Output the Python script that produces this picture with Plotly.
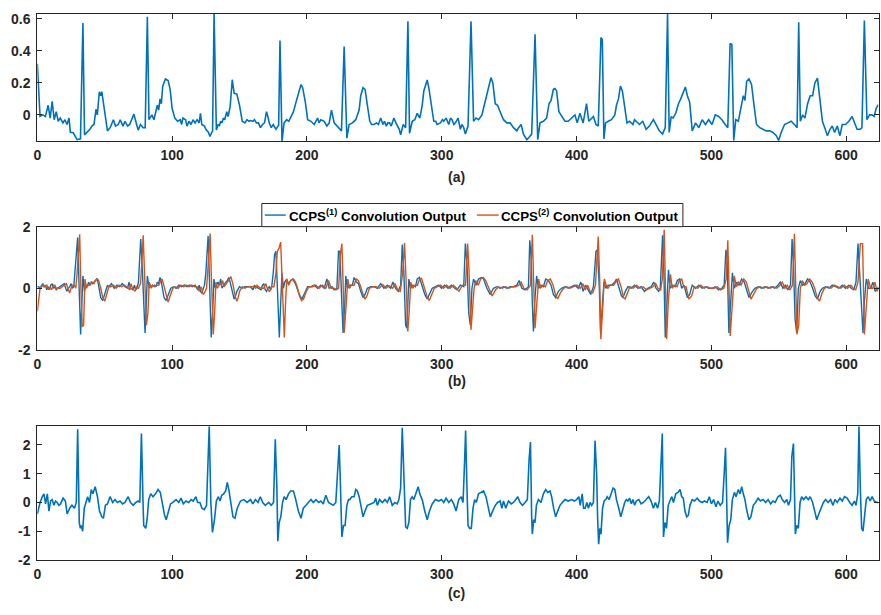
import plotly.graph_objects as go

# ---------------------------------------------------------------
# (a) input ECG segment: (sample index, amplitude)
# ---------------------------------------------------------------
ECG_INPUT = [
    (0, 0.32), (2, -0.01), (4, 0.0), (6, -0.01), (8, 0.06), (9.5, -0.02), (11, 0.085),
    (12.5, -0.03), (14, 0.02), (15.5, -0.04), (17, -0.02), (19, -0.05), (20.5, -0.03),
    (22, -0.06), (23.5, -0.02), (24.5, -0.11), (26.5, -0.11), (28, -0.13), (29.5, -0.155),
    (32, -0.15), (33.8, 0.575), (35, -0.125), (37, -0.11), (39, -0.09), (40.5, -0.07),
    (42, -0.06), (43.5, 0.035), (44.5, 0.0), (46, 0.145), (47, 0.12), (47.8, 0.145),
    (49, 0.08), (50.5, -0.02), (52, -0.1), (54, -0.08), (56.4, -0.03), (58, -0.07),
    (60, -0.06), (61.5, -0.03), (63.5, -0.07), (65, -0.04), (67, -0.07), (68.5, -0.06),
    (71.6, 0.005), (73, -0.04), (74.8, -0.095), (76.5, -0.06), (78.4, -0.08), (80, -0.08),
    (81.6, 0.614), (82.8, -0.03), (84, -0.01), (85, 0.0), (86.5, -0.03), (88, 0.02),
    (89, 0.06), (90, 0.03), (91, 0.1), (92, 0.07), (93, 0.18), (95, 0.225), (97, 0.215),
    (98.5, 0.16), (100, 0.04), (102, -0.02), (104, -0.04), (106, -0.03), (107, -0.06),
    (108, -0.02), (110, -0.03), (111, -0.07), (112.5, -0.04), (114, -0.06), (115.5, -0.03),
    (117, -0.05), (118.5, -0.03), (120, -0.05), (121, 0.01), (122, -0.06), (124, -0.07),
    (125, -0.09), (127, -0.11), (128, -0.135), (130, -0.1), (131.1, 0.632), (132.8, -0.095),
    (134, -0.06), (135, -0.07), (136, -0.04), (137, -0.05), (138, -0.02), (139, -0.03),
    (140.5, 0.02), (141.5, -0.01), (143, 0.05), (144.6, 0.22), (146, 0.135), (148, 0.13),
    (150, 0.06), (151, 0.0), (152, -0.04), (154, -0.05), (155.5, -0.03), (157, -0.04),
    (158, -0.035), (160, -0.04), (161, -0.03), (162.5, -0.05), (164, -0.05), (165.5, -0.08),
    (167, -0.06), (168.5, -0.05), (170, 0.02), (171, -0.01), (172, -0.05), (173.5, -0.08),
    (175, -0.06), (177, -0.09), (179, -0.065), (180, 0.465), (181.5, -0.166), (183, -0.05),
    (185, -0.03), (186.5, -0.04), (188, -0.01), (190, 0.02), (191.9, 0.08), (194.3, 0.16),
    (195.6, 0.19), (196.8, 0.17), (198.8, 0.08), (200.5, -0.03), (203, -0.04), (205.4, -0.06),
    (207.9, -0.02), (209, -0.05), (210.3, -0.03), (212.8, -0.04), (214.8, -0.07),
    (216.5, -0.05), (218.2, 0.03), (220.2, -0.05), (223.2, -0.08), (225.6, -0.1),
    (227.6, 0.427), (229.6, -0.145), (231.3, -0.06), (233.7, -0.05), (236.2, -0.03),
    (237.5, 0.0), (238.7, 0.03), (239.9, 0.12), (241.6, 0.17), (243.1, 0.16), (244.8, 0.05),
    (246.6, -0.04), (248, -0.06), (249.8, -0.06), (251.5, -0.05), (253, -0.06),
    (254.7, -0.02), (256.4, -0.06), (257.5, -0.04), (258.9, -0.07), (260, -0.05),
    (261.3, -0.05), (262.5, -0.07), (264.5, -0.02), (266, -0.05), (267, -0.07),
    (268.5, -0.09), (269.5, -0.125), (271.4, -0.06), (273.2, -0.08), (274.9, 0.586),
    (276.1, -0.115), (278.1, -0.04), (280, -0.03), (281.8, 0.01), (283.7, -0.02),
    (285.5, 0.06), (286.7, 0.15), (287.9, 0.18), (289.2, 0.218), (290.4, 0.17),
    (292.4, 0.05), (294.1, -0.04), (295.5, -0.04), (296.6, -0.06), (299, -0.05),
    (300.5, -0.03), (301.5, -0.04), (303.2, -0.02), (305.2, -0.06), (306.5, -0.02),
    (307.6, -0.03), (309, -0.06), (310.1, -0.05), (312.1, -0.02), (313.8, -0.09),
    (315, -0.06), (316.3, -0.08), (317.5, -0.12), (319.5, -0.07), (321.7, 0.586),
    (323.6, -0.04), (325.4, -0.02), (327.3, -0.03), (329.8, 0.0), (331.8, 0.07),
    (333.5, 0.12), (334.7, 0.17), (336.5, 0.233), (337.9, 0.2), (339.7, 0.07), (341.4, 0.06),
    (343.3, 0.02), (345.8, -0.03), (348.3, -0.05), (350.7, -0.05), (353.2, -0.08),
    (355.7, -0.1), (357, -0.08), (358.9, -0.06), (360.6, -0.12), (363.1, -0.155),
    (364.8, -0.14), (366.7, -0.12), (369.2, 0.504), (371.2, -0.155), (372.9, -0.05),
    (375.4, -0.04), (377.8, -0.02), (379.6, 0.07), (381.1, 0.09), (382.8, 0.16),
    (384, 0.165), (385.2, 0.15), (386.9, 0.02), (388.9, -0.01), (391.4, -0.04),
    (393.8, -0.04), (396.3, -0.02), (398.8, 0.0), (400.5, -0.05), (402.5, 0.01),
    (404.9, -0.05), (407.4, 0.07), (409.1, -0.04), (411.1, -0.02), (412.5, -0.01),
    (414.4, -0.06), (416.1, -0.07), (418.1, 0.484), (419.1, 0.47), (420.3, -0.15),
    (421.5, -0.05), (423.5, -0.04), (425.9, -0.03), (428.4, 0.0), (429.6, 0.06),
    (431.1, 0.1), (432.5, 0.18), (434, 0.15), (435.7, 0.06), (437.4, -0.05), (439.4, -0.04),
    (441.8, -0.06), (443, -0.03), (444.3, -0.04), (446.7, -0.06), (449.1, -0.04),
    (451.6, -0.09), (454, -0.07), (455.5, -0.05), (457, -0.03), (458.9, -0.06),
    (461.4, -0.1), (463.8, -0.12), (465.8, -0.08), (467.5, 0.632), (468.7, -0.11),
    (470.2, -0.01), (471.6, -0.02), (473.6, 0.01), (475.6, 0.07), (477.3, 0.1), (479, 0.14),
    (480.7, 0.175), (482.2, 0.12), (483.9, 0.08), (485.8, -0.1), (488.3, -0.05),
    (490.7, -0.08), (493.2, -0.03), (495.6, -0.06), (498, -0.03), (500.5, -0.06),
    (502.9, 0.0), (505.4, -0.01), (507.8, -0.03), (510.3, -0.06), (512.2, -0.08),
    (513.9, 0.447), (515.2, 0.44), (516.6, -0.16), (518.1, -0.03), (520, -0.04),
    (522, 0.05), (523.7, 0.12), (524.9, 0.09), (526.2, 0.21), (527.9, 0.225), (529.8, 0.19),
    (531.8, 0.05), (533.5, -0.06), (535.9, -0.08), (538.4, -0.09), (540.8, -0.1),
    (543.3, -0.1), (545.7, -0.11), (548.2, -0.13), (549.9, -0.16), (551.8, -0.11),
    (554.3, -0.06), (556.7, -0.05), (559.2, -0.04), (561.6, -0.06), (563.6, -0.08),
    (564.8, 0.58), (566, -0.04), (567.7, 0.0), (569.4, -0.02), (571.4, 0.07), (573.3, 0.12),
    (575.1, 0.12), (576.8, 0.2), (578.7, 0.23), (580.7, 0.06), (582.4, -0.04),
    (584.1, -0.08), (586.1, -0.13), (588, -0.09), (589.7, -0.07), (591.4, -0.11),
    (593.4, -0.07), (595.4, -0.13), (597.1, -0.06), (599.5, -0.06), (602, -0.04),
    (604.4, -0.01), (606.4, -0.05), (608.1, -0.09), (610.5, -0.09), (611.7, -0.08),
    (613.5, 0.59), (615.4, -0.03), (617.4, 0.0), (619.1, 0.0), (620.8, -0.01),
    (622.2, 0.04), (623.5, 0.06), (624, 0.06),
]

# ---------------------------------------------------------------
# (b) convolution outputs of the two CCPS filters
# ---------------------------------------------------------------
CCPS1_OUT = [
    (0, 0.05), (1, 0.05), (2, 0.0), (3, 0.1), (4, 0.15), (5, 0.05), (6, 0.1), (7, -0.05),
    (8, 0.05), (9, -0.05), (10, 0.1), (11, 0.15), (12, 0.0), (13, 0.05), (14, -0.05),
    (15, 0.0), (17, 0.05), (19, 0.1), (20, 0.15), (21, 0.0), (22, -0.1), (23, 0.0),
    (24, 0.05), (25, 0.15), (26, 0.0), (27, 0.05), (28, 0.6), (29, 1.2), (29.9, 1.65),
    (31, 0.0), (32.1, -1.5), (33, -0.5), (33.8, 0.4), (35, -0.1), (36, 0.1), (37, 0.05),
    (38, 0.2), (39, 0.1), (40, 0.2), (41, 0.15), (42, 0.2), (43, 0.25), (44, 0.3),
    (45, 0.2), (46, -0.1), (47, -0.3), (48.5, -0.4), (50, -0.2), (51, 0.0), (52, 0.1),
    (53, 0.05), (55, 0.15), (57, 0.0), (59, 0.1), (61, 0.05), (63, 0.15), (65, 0.05),
    (67, 0.0), (68, 0.2), (69, 0.0), (71, -0.05), (72, 0.1), (73, -0.05), (74, 0.0),
    (75, 0.2), (76.7, 1.6), (78, 0.5), (79.9, -1.45), (80.5, -0.8), (81.6, 0.4), (83, 0.0),
    (84, 0.1), (85, 0.05), (87, 0.1), (88, 0.05), (89, 0.2), (90, 0.15), (91, 0.35),
    (92, 0.2), (93, 0.0), (94, -0.3), (95.5, -0.4), (97, -0.2), (99, 0.0), (101, 0.05),
    (103, 0.0), (105, 0.1), (107, 0.05), (109, 0.1), (111, 0.05), (113, 0.1), (115, 0.05),
    (117, 0.1), (119, -0.05), (120, 0.1), (121, -0.1), (122, -0.15), (123, 0.0), (124, 0.1),
    (125, 0.5), (126, 1.2), (126.7, 1.7), (127.5, 0.5), (129, -1.6), (130, -0.8), (131, 0.3),
    (132, 0.0), (134, 0.2), (135, 0.1), (136, 0.3), (137, 0.0), (138, 0.1), (139, 0.15),
    (141, 0.25), (142, 0.35), (143, 0.2), (144, 0.0), (145, -0.2), (146, -0.35),
    (147, -0.25), (148, -0.1), (150, 0.05), (152, 0.0), (154, 0.05), (156, 0.05),
    (158, 0.05), (160, -0.05), (161, 0.1), (162, 0.05), (164, 0.0), (166, -0.05), (167, 0.1),
    (168, 0.15), (169, -0.05), (170, -0.1), (171, 0.0), (172, 0.05), (173, -0.05),
    (174, 0.1), (175, 0.5), (176, 1.1), (177, 1.2), (178, 0.0), (179.5, -1.6),
    (180.5, -0.5), (181.5, 0.5), (182.5, 0.0), (183.5, 0.2), (185, 0.3), (186, 0.15),
    (188, 0.25), (189.5, 0.3), (191.9, 0.1), (194.3, -0.2), (196.3, -0.35), (198, -0.2),
    (200.5, 0.05), (203, 0.05), (205.4, 0.1), (207.9, 0.0), (210.3, 0.1), (212.8, 0.0),
    (214.8, 0.3), (216.5, 0.0), (218.5, 0.05), (220.2, -0.05), (222.2, 0.0), (223.4, 1.2),
    (224.4, 1.2), (225.9, -0.5), (226.8, -1.45), (228.1, -0.5), (228.8, 0.4), (230, 0.0),
    (231.8, 0.1), (233.7, 0.1), (235, 0.35), (236.7, 0.2), (238.2, 0.15), (239.9, -0.1),
    (241.6, -0.3), (243.1, -0.2), (244.8, 0.0), (247.3, 0.05), (249.8, 0.05), (252.2, 0.0),
    (254.7, 0.15), (257.1, 0.0), (259.6, 0.1), (262.1, 0.0), (263.8, 0.2), (265.8, 0.0),
    (267.7, -0.1), (269.5, 0.1), (270.7, 1.42), (271.9, 0.5), (273.2, -1.2), (274.1, -1.3),
    (275.6, 0.3), (276.8, 0.0), (278.6, 0.1), (280.5, 0.05), (281.8, 0.3), (283.5, 0.35),
    (285.5, 0.1), (287.4, -0.2), (289.2, -0.35), (290.9, -0.2), (292.9, 0.0), (295.3, 0.05),
    (297.8, 0.1), (299.8, 0.0), (302.2, 0.1), (304.7, 0.0), (307.1, 0.1), (309.6, 0.0),
    (311.3, -0.05), (313.8, 0.1), (316.3, 0.05), (317.5, 1.45), (318.7, 0.8), (320, -0.8),
    (321.2, -1.2), (322.4, 0.0), (323.6, 0.3), (325.4, 0.1), (327.3, 0.3), (329.3, 0.35),
    (331, 0.3), (333.5, 0.0), (335.9, -0.2), (338.4, 0.0), (340.9, 0.05), (343.3, 0.0),
    (345.8, 0.05), (348.3, 0.0), (350.7, 0.05), (353.2, 0.05), (355.7, 0.1), (357.4, 0.25),
    (359.4, 0.0), (361.8, -0.05), (364.3, 0.05), (365.3, 1.56), (366.3, 1.0), (367.2, -0.5),
    (368, -1.4), (369.2, -0.3), (370.4, 0.4), (371.7, 0.0), (373.6, 0.1), (375.4, 0.05),
    (377.1, 0.3), (379.1, 0.25), (381.1, 0.1), (382.8, -0.2), (384.5, -0.3), (386.5, -0.1),
    (388.9, 0.0), (391.4, 0.05), (393.8, 0.0), (396.3, 0.05), (398.8, 0.1), (401.2, 0.0),
    (403.2, 0.2), (404.9, -0.1), (406.7, 0.1), (408.6, -0.05), (410.5, -0.2), (412.5, 0.05),
    (414.4, 1.2), (415.5, 1.25), (416.9, 0.0), (417.8, -1.45), (419.1, -0.5), (420.3, 0.2),
    (421.8, 0.0), (423.5, 0.1), (425.9, 0.1), (428.4, 0.2), (429.6, 0.3), (431.5, 0.0),
    (433.3, -0.25), (434.5, -0.3), (436.2, -0.1), (438.1, 0.05), (440.6, 0.0), (443, 0.1),
    (445.5, 0.0), (447.9, 0.05), (450.4, -0.1), (452.8, 0.0), (455.3, 0.05), (457.2, 0.2),
    (458.9, 0.0), (460.9, -0.1), (462.1, 0.0), (463.8, 1.72), (464.8, 0.5), (465.8, -1.6),
    (467, -0.5), (468.2, 0.6), (469.4, 0.0), (471.1, 0.1), (473.1, 0.05), (474.8, 0.25),
    (476.5, 0.3), (478, 0.0), (479.7, 0.1), (482.2, -0.3), (483.9, -0.2), (485.8, 0.1),
    (488.3, 0.0), (490.7, 0.1), (493.2, 0.0), (495.6, 0.05), (498, 0.0), (500.5, 0.0),
    (502.9, 0.05), (505.4, -0.05), (507.8, 0.0), (509.5, 0.1), (510.8, 1.25), (511.7, 1.0),
    (513, -1.45), (514.2, -0.5), (515.6, 0.5), (517.1, 0.0), (518.8, 0.2), (520.5, 0.1),
    (522.5, 0.3), (524.4, 0.2), (526.2, -0.1), (527.9, -0.3), (529.8, -0.15), (532.3, 0.0),
    (534.7, 0.05), (537.2, 0.0), (539.6, 0.05), (542.1, 0.0), (544.5, 0.05), (547, 0.0),
    (549.4, 0.1), (551.1, 0.2), (553.1, 0.0), (554.8, 0.1), (556.7, -0.05), (558.7, 0.1),
    (559.9, 1.6), (560.9, 0.8), (562.1, -1.0), (563.3, -1.45), (564.5, 0.0), (566, 0.25),
    (567.7, 0.1), (569.4, 0.15), (571.4, 0.3), (573.3, 0.2), (575.1, 0.0), (577, -0.25),
    (578.7, -0.35), (580.7, -0.1), (582.4, 0.0), (584.8, 0.05), (587.3, 0.0), (589.7, 0.1),
    (592.2, 0.05), (594.6, 0.0), (597.1, 0.1), (599.5, 0.0), (602, 0.1), (603.7, 0.0),
    (605.6, -0.05), (607.3, 0.2), (608.8, 1.45), (610, 0.5), (611.2, -0.8), (612.5, -1.45),
    (613.4, -0.5), (614.9, 0.3), (616.6, 0.0), (618.3, 0.0), (619.8, 0.2), (621.5, -0.1),
    (623.5, 0.0), (624, 0.05),
]

CCPS2_OUT = [
    (0, -0.75), (1, -0.3), (2, 0.0), (3, 0.05), (4.5, 0.1), (5.5, 0.05), (7, 0.1),
    (8.5, -0.05), (9.5, 0.05), (10.5, -0.05), (12, 0.1), (13, 0.1), (14, 0.0), (15.5, 0.0),
    (17, 0.0), (18.5, 0.05), (20.5, 0.1), (21.5, 0.15), (23, -0.05), (24, -0.15), (25, 0.0),
    (26, 0.1), (27.5, 0.1), (28.5, 0.0), (29.5, 0.5), (30.5, 1.3), (31.4, 1.75), (32.3, 0.0),
    (33.3, -1.25), (34.3, -1.2), (35.3, 0.3), (36.5, 0.0), (37.5, 0.1), (39, 0.1),
    (40.5, 0.2), (42, 0.15), (43, 0.25), (44.5, 0.3), (45.5, 0.25), (47, 0.0), (48.5, -0.3),
    (50, -0.42), (51.5, -0.2), (53, 0.05), (54.5, 0.05), (56.5, 0.1), (58.5, 0.0),
    (60.5, 0.1), (62.5, 0.05), (64.5, 0.1), (66.5, 0.05), (68.5, -0.05), (69.5, 0.15),
    (70.5, 0.0), (72.5, -0.1), (73.5, 0.05), (75, 0.0), (76.5, 0.15), (77.5, 0.8),
    (78.5, 1.72), (79.5, 0.5), (80.9, -1.2), (82, -0.8), (83, 0.2), (84.5, 0.0), (85.5, 0.1),
    (87, 0.05), (88.5, 0.1), (90, 0.1), (91.5, 0.2), (92.5, 0.3), (93.5, 0.15), (95, -0.1),
    (96, -0.35), (97, -0.45), (98.5, -0.25), (100.5, 0.0), (102.5, 0.05), (104.5, 0.0),
    (106.5, 0.1), (108.5, 0.05), (110.5, 0.1), (112.5, 0.05), (114.5, 0.1), (116.5, 0.05),
    (118.5, 0.05), (120, -0.1), (121.5, 0.05), (123, -0.2), (124, -0.15), (125.5, 0.0),
    (126.5, 0.6), (127.5, 1.5), (128.2, 1.78), (129, 0.5), (130.5, -1.5), (131.5, -0.8),
    (132.5, 0.2), (133.5, 0.0), (135.5, 0.15), (136.5, 0.1), (137.5, 0.25), (138.5, 0.05),
    (139.5, 0.1), (141, 0.2), (142.5, 0.3), (143.5, 0.38), (145, 0.15), (146, -0.1),
    (147, -0.3), (148, -0.42), (149, -0.3), (150, -0.1), (152, 0.05), (154, 0.0),
    (156, 0.05), (158, 0.05), (160, 0.05), (162, 0.0), (163, 0.1), (164, 0.05), (166, 0.0),
    (168, 0.0), (169.5, 0.15), (170.5, 0.0), (172, -0.1), (173, -0.05), (174, 0.05),
    (175.5, 0.05), (177, 0.5), (178, 1.2), (179.3, 1.3), (180.5, 1.5), (181.5, 0.2),
    (183.2, -1.6), (184, -0.6), (185, 0.3), (186.5, 0.1), (188, 0.25), (190, 0.3),
    (191.5, 0.2), (193, 0.0), (194.5, -0.25), (196, -0.4), (197.5, -0.35), (199.5, -0.1),
    (201.5, 0.05), (204, 0.05), (206.5, 0.1), (209, 0.0), (211.5, 0.1), (214, 0.0),
    (216, 0.25), (218, 0.0), (220, 0.0), (221.5, -0.05), (223.5, 0.0), (224.8, 1.1),
    (225.9, 1.45), (226.8, 0.2), (227.6, -1.45), (229, -0.6), (230.3, 0.3), (231.5, 0.0),
    (233, 0.1), (235, 0.1), (236.5, 0.3), (238, 0.25), (239.5, 0.1), (241.3, -0.15),
    (243, -0.35), (244.5, -0.25), (246.3, 0.0), (248.8, 0.05), (251.3, 0.05), (253.7, 0.0),
    (256.2, 0.12), (258.6, 0.0), (261.1, 0.08), (263.6, 0.0), (265.3, 0.15), (267.3, -0.05),
    (269.2, -0.1), (271, 0.5), (272.4, 1.47), (273.5, 0.3), (274.8, -1.4), (275.8, -0.8),
    (277, 0.2), (278.5, 0.0), (280, 0.1), (282, 0.1), (283.5, 0.3), (285, 0.32), (287, 0.05),
    (289, -0.25), (290.7, -0.4), (292.4, -0.2), (294.5, 0.0), (296.8, 0.05), (299.3, 0.1),
    (301.3, 0.0), (303.7, 0.1), (306.2, 0.0), (308.6, 0.1), (311, 0.0), (312.8, -0.1),
    (315.3, 0.1), (317.6, 0.1), (319.2, 1.45), (320.2, 0.6), (321.7, -1.35), (322.8, -0.8),
    (324, 0.0), (325.2, 0.25), (327, 0.1), (328.9, 0.3), (330.8, 0.35), (332.6, 0.25),
    (335, 0.0), (337.4, -0.25), (339.9, -0.05), (342.4, 0.05), (344.8, 0.0), (347.3, 0.05),
    (349.8, 0.0), (352.2, 0.05), (354.7, 0.05), (357.2, 0.1), (358.9, 0.2), (360.9, 0.0),
    (363.3, -0.05), (365.8, 0.1), (366.5, 1.0), (367.2, 1.74), (368.1, 0.3), (369.2, -1.3),
    (370.5, -0.5), (371.9, 0.3), (373.2, 0.0), (375.1, 0.1), (376.9, 0.05), (378.6, 0.25),
    (380.6, 0.3), (382.6, 0.1), (384.3, -0.2), (386, -0.35), (388, -0.15), (390.4, 0.0),
    (392.9, 0.05), (395.3, 0.0), (397.8, 0.05), (400.3, 0.1), (402.7, 0.0), (404.7, 0.15),
    (406.4, -0.05), (408.2, 0.1), (410.1, -0.1), (412, -0.15), (414, 0.1), (415.2, 1.0),
    (416.1, 1.68), (417.2, 0.2), (418, -1.65), (419.3, -0.7), (420.6, 0.3), (422, 0.1),
    (423.3, 0.0), (425, 0.1), (427.4, 0.1), (429.9, 0.25), (431.1, 0.3), (433, 0.05),
    (434.8, -0.3), (436, -0.35), (437.7, -0.15), (439.6, 0.05), (442.1, 0.0), (444.5, 0.1),
    (447, 0.0), (449.4, 0.05), (451.9, -0.05), (454.3, 0.0), (456.8, 0.05), (458.7, 0.15),
    (460.4, 0.0), (462.4, -0.05), (463.6, 0.3), (465, 1.9), (465.8, 0.3), (466.8, -1.65),
    (468, -0.5), (469.7, 0.45), (470.9, 0.0), (472.6, 0.1), (474.6, 0.05), (476.3, 0.25),
    (478, 0.3), (479.5, 0.05), (481.2, 0.05), (483.3, -0.35), (485.4, -0.25), (487.3, 0.05),
    (489.8, 0.0), (492.2, 0.1), (494.7, 0.0), (497.1, 0.05), (499.5, 0.0), (502, 0.0),
    (504.4, 0.05), (506.9, -0.05), (509.3, 0.0), (511, 0.3), (512.2, 1.56), (513.1, 0.3),
    (514, -1.55), (515.4, -0.6), (517, 0.4), (518.6, 0.05), (520.3, 0.2), (522, 0.1),
    (524, 0.3), (525.9, 0.2), (527.7, -0.1), (529.4, -0.35), (531.3, -0.2), (533.8, 0.0),
    (536.2, 0.05), (538.7, 0.0), (541.1, 0.05), (543.6, 0.0), (546, 0.05), (548.5, 0.0),
    (550.9, 0.1), (552.6, 0.2), (554.6, 0.0), (556.3, 0.1), (558.2, -0.05), (560.2, 0.1),
    (561.6, 1.77), (562.5, 0.5), (563.5, -1.5), (564.8, -1.2), (566, 0.0), (567.5, 0.25),
    (569.2, 0.1), (570.9, 0.15), (572.9, 0.3), (574.8, 0.2), (576.6, 0.0), (578.5, -0.3),
    (580.2, -0.42), (582.2, -0.15), (583.9, 0.0), (586.3, 0.05), (588.8, 0.0), (591.2, 0.1),
    (593.7, 0.05), (596.1, 0.0), (598.6, 0.1), (601, 0.0), (603.5, 0.1), (605.2, 0.0),
    (607.1, -0.05), (608.8, 0.2), (610.5, 1.45), (612.2, 1.45), (613.5, -1.5),
    (614.4, -1.0), (616.4, 0.3), (618.1, 0.0), (619.8, 0.0), (621.3, 0.2), (623, -0.1),
    (624, 0.0),
]

# ---------------------------------------------------------------
# (c) combined output
# ---------------------------------------------------------------
COMBINED_OUT = [
    (0, -0.4), (2, 0.0), (3.7, 0.2), (4.9, 0.3), (6.1, -0.05), (7.4, 0.3), (8.6, -0.3),
    (9.8, 0.05), (11, 0.1), (12.3, -0.1), (13.5, 0.05), (14.7, 0.0), (16, -0.1),
    (17.2, -0.05), (19.1, 0.15), (20.8, 0.05), (22.1, -0.4), (24, -0.2), (25.7, -0.1),
    (27.5, -0.2), (28.9, 0.0), (29.9, 2.55), (31.1, -0.7), (31.9, -0.9), (32.6, -0.8),
    (33.6, -1.0), (34.8, -0.2), (36.3, 0.1), (37.3, 0.2), (38.7, 0.0), (40, 0.45),
    (41.2, 0.3), (42.9, 0.55), (44.6, 0.2), (46.1, -0.3), (47.8, -0.5), (49, -0.55),
    (50.5, -0.1), (52, -0.05), (53.9, 0.2), (55.9, 0.0), (57.6, 0.1), (59.3, 0.0),
    (61.3, 0.05), (63.2, -0.05), (65, 0.0), (67.4, 0.2), (69.1, 0.0), (71.1, -0.1), (73, 0.0),
    (74.8, 0.05), (76, 0.0), (77.2, 2.4), (78.4, 0.0), (78.9, -0.8), (80.4, -0.9),
    (81.4, -0.6), (82.6, 0.1), (84.1, 0.3), (85.8, 0.2), (87.7, 0.3), (89.5, 0.45),
    (91.2, 0.35), (92.6, 0.0), (94.4, -0.45), (95.6, -0.6), (96.8, -0.4), (98.8, -0.05),
    (100.5, 0.0), (102.9, 0.1), (104.9, 0.0), (106.6, 0.15), (108.3, -0.05), (110.3, 0.05),
    (112.3, 0.0), (114, 0.1), (115.7, 0.05), (117.6, 0.2), (118.9, 0.0), (120.6, 0.0),
    (122.1, -0.2), (123.8, -0.25), (125.5, -0.1), (126.7, 1.2), (127.5, 2.65), (128.7, 0.0),
    (129.9, -1.04), (131.4, -0.6), (132.8, 0.05), (134.3, 0.2), (135.5, 0.05), (136.8, 0.25),
    (138.2, 0.3), (139.7, 0.4), (140.9, 0.7), (142.2, 0.4), (143.6, 0.0), (145.1, -0.5),
    (146.6, -0.55), (148.3, -0.2), (150.7, 0.05), (153.2, 0.1), (155.6, 0.0), (158.1, 0.1),
    (159.8, -0.05), (161.8, 0.1), (163.7, 0.0), (165.4, 0.2), (167.2, 0.0), (169.1, -0.1),
    (171.6, 0.0), (173.5, -0.1), (175.2, 0.0), (176.5, 2.2), (177.7, 0.5), (178.4, -1.35),
    (179.4, -0.7), (180.6, -0.5), (181.9, 0.0), (183.1, 0.2), (184.6, 0.1), (186.3, 0.3),
    (188, 0.4), (190, 0.4), (191.7, 0.1), (193.6, -0.3), (195.6, -0.55), (197.3, -0.2),
    (199.3, -0.1), (201.2, 0.0), (203, 0.1), (204.7, 0.0), (206.7, 0.1), (208.6, 0.0),
    (210.3, 0.05), (212.1, -0.05), (214, 0.25), (216, 0.0), (217.7, -0.05), (219.5, -0.1),
    (221.4, 0.0), (222.7, 1.2), (223.9, 2.0), (224.6, 1.0), (225.9, -1.2), (227.1, -0.8),
    (228.3, -0.8), (229.6, -0.1), (230.8, 0.1), (231.8, 0.1), (233.3, 0.2), (235, 0.2),
    (236.2, 0.45), (237.4, 0.4), (238.7, 0.2), (240.4, -0.2), (241.6, -0.5), (243.1, -0.3),
    (244.8, -0.1), (247.3, -0.05), (249.8, 0.0), (251, 0.15), (252.2, -0.1), (253.9, 0.1),
    (255.9, 0.0), (257.9, 0.1), (259.6, 0.0), (261.3, 0.2), (263.3, -0.1), (265.3, 0.0),
    (267, -0.05), (268.2, 0.1), (269.5, 0.5), (270.7, 2.6), (271.9, 0.5), (273.2, -0.85),
    (274.4, -0.9), (275.6, -0.7), (276.8, 0.1), (278.1, 0.2), (279.3, 0.1), (281, 0.35),
    (282.5, 0.55), (283.7, 0.3), (285.5, 0.1), (287.4, -0.3), (289.2, -0.6), (290.9, -0.3),
    (292.9, -0.05), (295.3, 0.1), (297.8, 0.05), (299.8, 0.1), (301.5, 0.0), (303.2, 0.15),
    (305.2, 0.0), (307.1, 0.1), (308.9, -0.05), (310.6, -0.3), (312.6, 0.1), (314.5, 0.2),
    (315.8, 0.0), (317, 1.5), (317.7, 2.5), (318.7, 0.5), (319.5, -0.8), (320.7, -0.9),
    (321.9, -0.9), (323.2, -0.2), (324.4, 0.1), (325.6, 0.0), (327.3, 0.3), (329.1, 0.35),
    (331, 0.4), (332.8, 0.2), (334.2, -0.1), (336, -0.5), (337.7, -0.3), (339.7, -0.1),
    (341.4, 0.0), (343.3, 0.05), (344.6, -0.2), (345.8, 0.05), (347.5, -0.2), (349.5, 0.05),
    (351.5, -0.05), (353.2, 0.0), (354.9, 0.1), (356.4, 0.2), (358.1, 0.0), (359.9, -0.1),
    (361.8, 0.0), (363.5, 0.1), (364.8, 1.5), (365.8, 2.1), (366.7, -0.5), (367.2, -1.1),
    (368.2, -0.6), (369.2, -0.7), (370.2, -0.1), (371.7, 0.1), (373.6, 0.0), (375.4, 0.3),
    (377.1, 0.45), (378.6, 0.35), (380.3, 0.4), (381.5, 0.2), (383, -0.2), (384.5, -0.5),
    (386, -0.3), (387.7, -0.1), (389.4, 0.0), (391.4, 0.1), (393.8, 0.05), (396.3, 0.1),
    (398.3, 0.05), (400, 0.1), (401.7, 0.2), (402.7, -0.1), (404.2, 0.3), (405.2, -0.2),
    (406.4, -0.2), (407.6, 0.0), (408.8, -0.2), (410, 0.0), (411.2, -0.1), (412.5, 0.0),
    (413.7, 2.15), (414.9, 1.0), (415.6, -0.5), (416.4, -1.45), (417.3, -0.9), (418.1, -1.1),
    (419.3, -0.2), (420.5, 0.05), (421.7, 0.1), (422.7, 0.2), (424.2, 0.1), (425.6, 0.3),
    (427.1, 0.5), (428.4, 0.45), (429.6, 0.1), (431.3, -0.2), (432.8, -0.5), (434, -0.3),
    (435.7, 0.0), (436.9, 0.1), (438.1, 0.05), (439.4, 0.15), (440.6, -0.05), (441.8, 0.1),
    (443.1, -0.1), (444.3, 0.05), (446.2, 0.1), (447.9, -0.05), (449.6, 0.0), (451.6, 0.1),
    (453.5, 0.2), (455.3, 0.05), (457, -0.2), (458.5, 0.0), (460.1, -0.2), (461.4, 0.05),
    (462.6, 1.5), (463.6, 2.4), (464.5, -1.2), (465.5, -0.7), (466.7, -0.9), (468, -0.1),
    (469.2, 0.05), (470.7, 0.2), (471.9, 0.0), (473.6, 0.3), (475.3, 0.35), (476.8, 0.45),
    (478, 0.2), (479.2, 0.15), (480.4, -0.3), (481.7, -0.5), (482.9, -0.45), (484.1, -0.1),
    (485.8, 0.1), (487.5, 0.05), (489.5, 0.15), (491.2, 0.05), (493.2, 0.0), (494.9, 0.05),
    (496.8, 0.0), (498.5, 0.2), (500, -0.05), (501.7, 0.1), (503.4, -0.15), (504.9, 0.05),
    (506.6, -0.1), (508.3, 0.0), (509.5, 1.0), (510.5, 1.9), (511.2, 0.5), (512, -1.4),
    (513.2, -0.8), (514.4, -0.6), (515.6, 0.1), (517.1, 0.35), (518.3, 0.2), (520, 0.45),
    (521.3, 0.3), (522.5, 0.55), (523.7, 0.3), (524.9, 0.1), (526.4, -0.3), (527.9, -0.6),
    (529.3, -0.5), (531.1, -0.1), (532.8, 0.0), (534.7, 0.15), (536.4, 0.05), (538.4, 0.1),
    (540.3, 0.0), (542.1, 0.1), (544, -0.05), (545.7, 0.05), (547.4, 0.0), (549.4, 0.2),
    (551.1, 0.25), (552.6, 0.1), (554.3, 0.0), (556, 0.1), (557.2, -0.1), (558.7, 0.1),
    (559.7, 1.6), (560.9, 2.05), (561.6, 0.5), (562.3, -1.1), (563.3, -0.8), (564.5, -0.9),
    (565.8, 0.0), (567, 0.2), (568.5, 0.1), (570.2, 0.2), (571.9, 0.1), (573.3, 0.2),
    (575.1, 0.0), (576.8, -0.3), (578.2, -0.6), (579.7, -0.4), (581.2, -0.2), (583.1, 0.0),
    (584.8, 0.1), (586.6, 0.0), (588.5, 0.1), (590.2, -0.1), (591.7, 0.1), (593.4, 0.0),
    (595.4, 0.15), (597.1, 0.05), (598.8, 0.2), (600.7, 0.15), (602.7, 0.0), (604.4, -0.1),
    (606.1, 0.05), (607.3, -0.1), (608.6, 0.3), (609.5, 2.65), (610.5, 0.5), (611.5, -0.9),
    (612.5, -1.0), (613.7, -0.3), (614.9, 0.1), (616.4, 0.2), (617.8, 0.05), (619.3, 0.2),
    (620.8, 0.05), (622.7, 0.0), (624, 0.0),
]

X_TICKS = [0, 100, 200, 300, 400, 500, 600]
A_YTICKS = [0, 0.2, 0.4, 0.6]
B_YTICKS = [-2, 0, 2]
C_YTICKS = [-2, -1, 0, 1, 2]
PANEL_LABELS = ["(a)", "(b)", "(c)"]
LEGEND_NAMES = ["CCPS<sup>(1)</sup> Convolution Output",
                "CCPS<sup>(2)</sup> Convolution Output"]

BLUE = "#0072BD"
ORANGE = "#D95319"
AXIS = "#262626"
FONT = "Liberation Sans"

W, H = 881, 615


def split(points):
    return [p[0] for p in points], [p[1] for p in points]


def px_x(px):
    """pixel column -> paper x"""
    return px / W


def px_y(px):
    """pixel row (from top) -> paper y"""
    return 1 - px / H


fig = go.Figure()

ax, ay = split(ECG_INPUT)
fig.add_trace(go.Scatter(x=ax, y=ay, mode="lines", line=dict(color=BLUE, width=1.6),
                         xaxis="x", yaxis="y", showlegend=False))

b1x, b1y = split(CCPS1_OUT)
b2x, b2y = split(CCPS2_OUT)
fig.add_trace(go.Scatter(x=b1x, y=b1y, mode="lines", name=LEGEND_NAMES[0],
                         line=dict(color=BLUE, width=1.4), xaxis="x2", yaxis="y2",
                         showlegend=False))
fig.add_trace(go.Scatter(x=b2x, y=b2y, mode="lines", name=LEGEND_NAMES[1],
                         line=dict(color=ORANGE, width=1.4), xaxis="x2", yaxis="y2",
                         showlegend=False))

cx, cy = split(COMBINED_OUT)
fig.add_trace(go.Scatter(x=cx, y=cy, mode="lines", line=dict(color=BLUE, width=1.6),
                         xaxis="x3", yaxis="y3", showlegend=False))

tickfont = dict(family=FONT, size=14, color=AXIS, weight="bold")
x_dom = [px_x(33.5), px_x(878.5)]

common_axis = dict(showline=True, linecolor=AXIS, linewidth=1, mirror="ticks",
                   ticks="inside", ticklen=5, tickwidth=1, tickcolor=AXIS,
                   showgrid=False, zeroline=False, tickfont=tickfont)


def xaxis(anchor):
    return dict(domain=x_dom, range=[0, 624], tickvals=X_TICKS, anchor=anchor,
                ticklabelstandoff=1, **common_axis)


def yaxis(anchor, top, bottom, rng, ticks):
    return dict(domain=[px_y(bottom), px_y(top)], range=rng, tickvals=ticks,
                ticktext=[("%g" % t) for t in ticks], anchor=anchor,
                ticklabelstandoff=3, **common_axis)


fig.update_layout(
    width=W, height=H,
    margin=dict(l=0, r=0, t=0, b=0),
    paper_bgcolor="white", plot_bgcolor="white",
    font=dict(family=FONT, color=AXIS),
    showlegend=False,
    xaxis=xaxis("y"),
    yaxis=yaxis("x", 6, 137, [-0.166, 0.632], A_YTICKS),
    xaxis2=xaxis("y2"),
    yaxis2=yaxis("x2", 224.5, 351, [-2, 2], B_YTICKS),
    xaxis3=xaxis("y3"),
    yaxis3=yaxis("x3", 429.3, 566.7, [-2, 2.655], C_YTICKS),
)

# Legend box for panel (b), placed just above its axes
LEG_LEFT, LEG_RIGHT, LEG_TOP, LEG_BOTTOM = 259, 682, 200.7, 224.5
LEG_MID = (LEG_TOP + LEG_BOTTOM) / 2
fig.add_shape(type="rect", xref="paper", yref="paper",
              x0=px_x(LEG_LEFT), x1=px_x(LEG_RIGHT), y0=px_y(LEG_BOTTOM), y1=px_y(LEG_TOP),
              line=dict(color=AXIS, width=1), fillcolor="white", layer="above")
for name, color, x0, x1, xt in [(LEGEND_NAMES[0], BLUE, 262, 283, 284),
                                (LEGEND_NAMES[1], ORANGE, 475, 497, 497)]:
    fig.add_shape(type="line", xref="paper", yref="paper",
                  x0=px_x(x0), x1=px_x(x1), y0=px_y(LEG_MID), y1=px_y(LEG_MID),
                  line=dict(color=color, width=1.4), layer="above")
    fig.add_annotation(text=name, x=px_x(xt), y=px_y(LEG_MID + 0.5), xref="paper",
                       yref="paper", showarrow=False, xanchor="left", yanchor="middle",
                       font=dict(family=FONT, size=13.3, color="black", weight="bold"))

for label, ypix in zip(PANEL_LABELS, [174, 383, 601]):
    fig.add_annotation(text=label, x=px_x(455), y=px_y(ypix), xref="paper", yref="paper",
                       showarrow=False, xanchor="center", yanchor="middle",
                       font=dict(family=FONT, size=14, color=AXIS, weight="bold"))

fig.write_html("out.html")
